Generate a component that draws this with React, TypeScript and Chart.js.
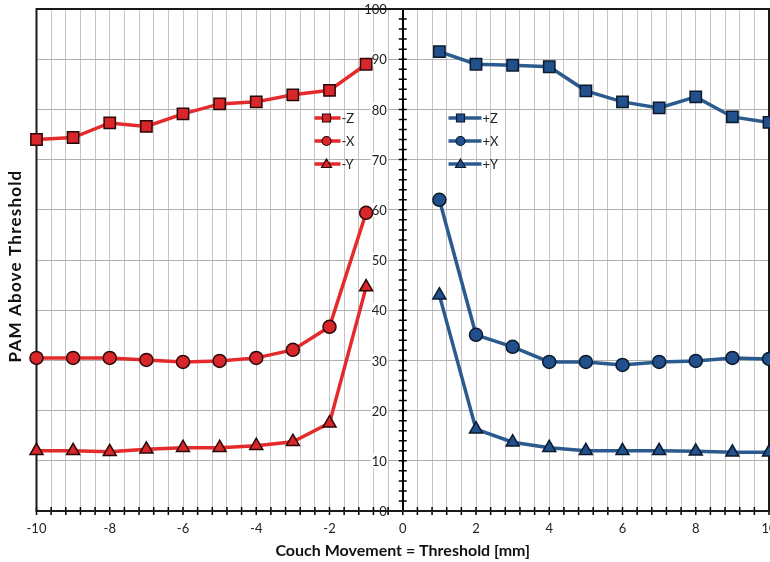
import React, { useEffect, useRef } from 'react';
import { Chart, registerables } from 'chart.js';

Chart.register(...registerables);

// ---- data ----
const xNeg = [-10, -9, -8, -7, -6, -5, -4, -3, -2, -1];
const xPos = [1, 2, 3, 4, 5, 6, 7, 8, 9, 10];
const negZ = [74.0, 74.4, 77.3, 76.6, 79.1, 81.1, 81.5, 82.9, 83.8, 89.0];
const negX = [30.5, 30.5, 30.5, 30.1, 29.7, 29.9, 30.5, 32.1, 36.7, 59.4];
const negY = [12.0, 12.0, 11.8, 12.3, 12.6, 12.6, 13.0, 13.8, 17.5, 44.6];
const posZ = [91.5, 89.0, 88.8, 88.5, 83.7, 81.5, 80.3, 82.5, 78.5, 77.4];
const posX = [62.0, 35.1, 32.7, 29.7, 29.7, 29.1, 29.7, 29.9, 30.5, 30.3];
const posY = [43.0, 16.3, 13.7, 12.6, 12.0, 12.0, 12.0, 11.9, 11.7, 11.7];
const legendNeg = ['-Z', '-X', '-Y'];
const legendPos = ['+Z', '+X', '+Y'];
const xTitle = 'Couch Movement = Threshold [mm]';
const yTitle = 'PAM Above Threshold';

const RED_LINE = '#e52a2c';
const RED_FILL = '#d9262a';
const RED_EDGE = '#2a0808';
const BLUE_LINE = '#2b5a8e';
const BLUE_FILL = '#21508c';
const BLUE_EDGE = '#0b1a2e';
const FONT = 'Lato, "Open Sans", sans-serif';

const styles = ['rect', 'circle', 'triangle'];
const radii = [8, 6.5, 7.5];

function mk(label: string, xs: number[], ys: number[], idx: number, line: string, fill: string, edge: string) {
  return {
    label,
    data: xs.map((x, i) => ({ x, y: ys[i] })),
    borderColor: line,
    backgroundColor: fill,
    borderWidth: 3.5,
    pointStyle: styles[idx],
    pointRadius: radii[idx],
    pointBackgroundColor: fill,
    pointBorderColor: edge,
    pointBorderWidth: 1.5,
    tension: 0,
    clip: false,
  };
}

function drawMarker(ctx: CanvasRenderingContext2D, style: string, x: number, y: number, fill: string, edge: string) {
  ctx.beginPath();
  if (style === 'rect') {
    ctx.rect(x - 4, y - 4, 8, 8);
  } else if (style === 'circle') {
    ctx.arc(x, y, 4.5, 0, Math.PI * 2);
  } else {
    ctx.moveTo(x, y - 5);
    ctx.lineTo(x + 5, y + 3.5);
    ctx.lineTo(x - 5, y + 3.5);
    ctx.closePath();
  }
  ctx.fillStyle = fill;
  ctx.fill();
  ctx.lineWidth = 1.2;
  ctx.strokeStyle = edge;
  ctx.stroke();
}

const isMult = (v: number, m: number) => Math.abs(v / m - Math.round(v / m)) < 1e-6;

const decor = {
  id: 'decor',
  beforeDatasetsDraw(chart: any) {
    const { ctx, chartArea: a, scales } = chart;
    const xs = scales.x;
    const ys = scales.y;
    ctx.save();
    const x0 = xs.getPixelForValue(0);
    // y labels (left of the centred axis, white backdrop)
    ctx.font = `13px ${FONT}`;
    ctx.textAlign = 'right';
    ctx.textBaseline = 'middle';
    ys.ticks.forEach((t: any) => {
      if (!isMult(t.value, 10)) return;
      const py = ys.getPixelForValue(t.value);
      const label = String(Math.round(t.value));
      const w = ctx.measureText(label).width;
      ctx.fillStyle = '#fff';
      if (t.value < 100) ctx.fillRect(x0 - 16 - w - 1, py - 7, w + 2, 14);
      ctx.fillStyle = '#222';
      ctx.fillText(label, x0 - 16, py + 1);
    });
    ctx.strokeStyle = '#000';
    ctx.lineWidth = 1.5;
    ctx.beginPath();
    ys.ticks.forEach((t: any) => {
      const py = ys.getPixelForValue(t.value);
      ctx.moveTo(x0 - 4, py);
      ctx.lineTo(x0 + 4, py);
    });
    xs.ticks.forEach((t: any) => {
      const px = xs.getPixelForValue(t.value);
      ctx.moveTo(px, a.bottom - 4);
      ctx.lineTo(px, a.bottom + 4);
    });
    ctx.stroke();
    ctx.lineWidth = 2;
    ctx.strokeStyle = '#1a1a1a';
    ctx.strokeRect(a.left, a.top, a.right - a.left, a.bottom - a.top);
    ctx.restore();
  },
  afterDraw(chart: any) {
    const { ctx, chartArea: a } = chart;
    ctx.save();
    // legends
    const groups = [
      { names: legendNeg, x1: a.left + 278, x2: a.left + 304, mx: a.left + 290, tx: a.left + 305, line: RED_LINE, fill: RED_FILL, edge: RED_EDGE },
      { names: legendPos, x1: a.left + 412, x2: a.left + 445, mx: a.left + 424, tx: a.left + 446, line: BLUE_LINE, fill: BLUE_FILL, edge: BLUE_EDGE },
    ];
    groups.forEach((g) => {
      g.names.forEach((name, i) => {
        const y = a.top + 109 + i * 23;
        ctx.beginPath();
        ctx.moveTo(g.x1, y);
        ctx.lineTo(g.x2, y);
        ctx.lineWidth = 3.5;
        ctx.strokeStyle = g.line;
        ctx.stroke();
        drawMarker(ctx, styles[i], g.mx, y, g.fill, g.edge);
        ctx.fillStyle = '#222';
        ctx.font = `13px ${FONT}`;
        ctx.textAlign = 'left';
        ctx.textBaseline = 'middle';
        ctx.fillText(name, g.tx, y + 1);
      });
    });
    // y title
    ctx.translate(16, (a.top + a.bottom) / 2 + 6);
    ctx.rotate(-Math.PI / 2);
    ctx.font = `bold 17px ${FONT}`;
    try {
      (ctx as any).letterSpacing = '1.2px';
    } catch (e) {}
    ctx.fillStyle = '#111';
    ctx.textAlign = 'center';
    ctx.textBaseline = 'middle';
    ctx.fillText(yTitle, 0, 0);
    ctx.restore();
  },
};

export default function App() {
  const ref = useRef<HTMLCanvasElement>(null);
  useEffect(() => {
    const chart = new Chart(ref.current as HTMLCanvasElement, {
      type: 'line',
      data: {
        datasets: [
          mk('-Z', xNeg, negZ, 0, RED_LINE, RED_FILL, RED_EDGE),
          mk('-X', xNeg, negX, 1, RED_LINE, RED_FILL, RED_EDGE),
          mk('-Y', xNeg, negY, 2, RED_LINE, RED_FILL, RED_EDGE),
          mk('+Z', xPos, posZ, 0, BLUE_LINE, BLUE_FILL, BLUE_EDGE),
          mk('+X', xPos, posX, 1, BLUE_LINE, BLUE_FILL, BLUE_EDGE),
          mk('+Y', xPos, posY, 2, BLUE_LINE, BLUE_FILL, BLUE_EDGE),
        ] as any,
      },
      options: {
        animation: false,
        responsive: false,
        layout: { autoPadding: false, padding: { left: 36.5, right: 1, top: 9, bottom: 0 } },
        plugins: { legend: { display: false }, tooltip: { enabled: false } },
        scales: {
          x: {
            type: 'linear',
            min: -10,
            max: 10,
            afterFit: (s: any) => {
              s.height = 51;
              s.paddingLeft = 0;
              s.paddingRight = 0;
            },
            ticks: {
              stepSize: 0.4,
              autoSkip: false,
              maxRotation: 0,
              padding: 10,
              color: '#222',
              font: { family: FONT, size: 13 },
              callback: (v: any) => {
                const n = Number(v);
                return isMult(n, 2) ? String(Math.round(n)) : '';
              },
            },
            grid: { color: '#c4c4c4', lineWidth: 1, drawTicks: false },
            border: { display: true, color: '#000', width: 2 },
            title: {
              display: true,
              text: xTitle,
              color: '#111',
              font: { family: FONT, size: 16, weight: 'bold' },
              padding: { top: 0, bottom: 2 },
            },
          },
          y: {
            type: 'linear',
            min: 0,
            max: 100,
            position: { x: 0 } as any,
            afterFit: (s: any) => {
              s.paddingTop = 0;
              s.paddingBottom = 0;
            },
            ticks: {
              stepSize: 2,
              autoSkip: false,
              display: false,
            },
            grid: {
              color: (c: any) => (c.tick && isMult(c.tick.value, 10) ? '#b0b0b0' : 'rgba(0,0,0,0)'),
              lineWidth: 1,
              drawTicks: false,
            },
            border: { display: true, color: '#000', width: 2 },
          },
        },
      },
      plugins: [decor],
    });
    return () => chart.destroy();
  }, []);
  return (
    <div style={{ position: 'fixed', left: 0, top: 0, width: 770, height: 562, background: '#fff' }}>
      <canvas ref={ref} width={770} height={562} style={{ display: 'block' }} />
    </div>
  );
}
